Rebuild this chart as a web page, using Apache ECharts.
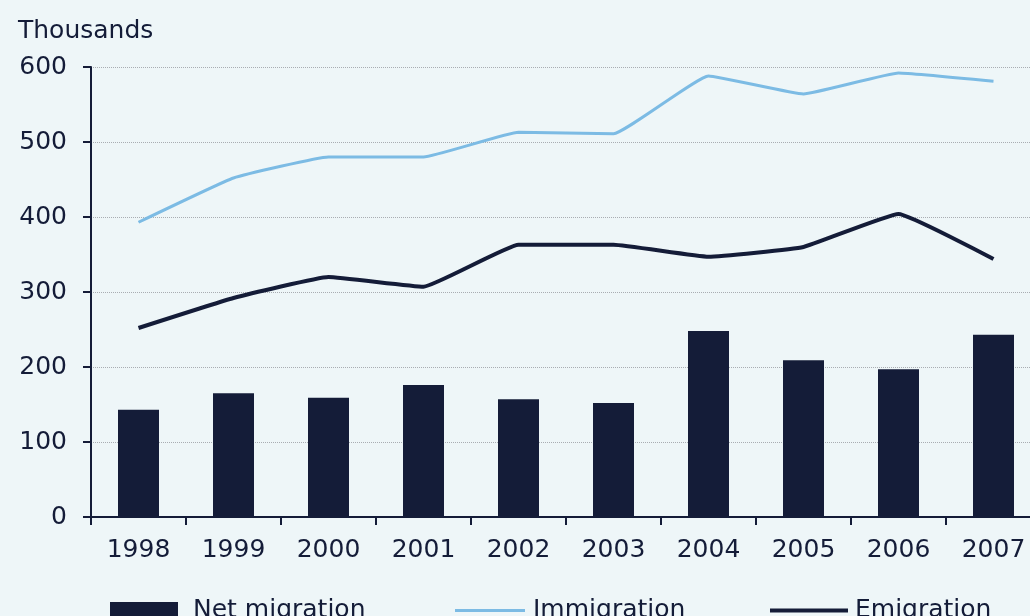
<!DOCTYPE html>
<html><head><meta charset="utf-8">
<script src="https://cdn.jsdelivr.net/npm/echarts@6/dist/echarts.min.js"></script>
<style>html,body{margin:0;padding:0;background:#eef6f8;}#c{width:1030px;height:616px;}</style>
</head><body><div id="c"></div>
<script>
var years = ['1998','1999','2000','2001','2002','2003','2004','2005','2006','2007'];
var netMigration = [143,165,159,176,157,152,248,209,197,243];
var immigration = [393,452,480,480,513,511,588,564,592,581];
var emigration = [252,292,320,307,363,363,347,360,404,344];
var yTicks = [0,100,200,300,400,500,600];

var navy = '#141c38';
var light = '#7cbbe4';
var font = 'DejaVu Sans';
var fs = 25;
var chart = echarts.init(document.getElementById('c'));
function lt(pad) { return {color: navy, fontSize: fs, fontFamily: font, padding: [0, 0, 0, pad]}; }
chart.setOption({
  backgroundColor: '#eef6f8',
  animation: false,
  title: {text: 'Thousands', left: 13, top: 14, textStyle: {color: navy, fontSize: fs, fontWeight: 'normal', fontFamily: font}},
  grid: {left: 91, top: 67, width: 950, height: 450, containLabel: false, outerBoundsMode: 'none'},
  xAxis: {
    type: 'category', data: years, boundaryGap: true,
    axisLine: {lineStyle: {color: navy, width: 2}},
    axisTick: {show: true, length: 8, lineStyle: {color: navy, width: 2}},
    axisLabel: {color: navy, fontSize: fs, fontFamily: font, margin: 21}
  },
  yAxis: {
    type: 'value', min: yTicks[0], max: yTicks[yTicks.length-1], interval: 100,
    axisLine: {show: true, lineStyle: {color: navy, width: 2}},
    axisTick: {show: true, length: 8, lineStyle: {color: navy, width: 2}},
    axisLabel: {color: navy, fontSize: fs, fontFamily: font, margin: 24},
    splitLine: {show: true, lineStyle: {color: '#a9adb2', type: 'dotted', width: 1}}
  },
  legend: [
    {data: [{name: 'Net migration', icon: 'rect'}], left: 105, top: 593, itemWidth: 68, itemHeight: 17, textStyle: lt(10)},
    {data: [{name: 'Immigration', icon: 'rect'}], left: 450, top: 593, itemWidth: 70, itemHeight: 3, textStyle: lt(3)},
    {data: [{name: 'Emigration', icon: 'rect'}], left: 765, top: 593, itemWidth: 78, itemHeight: 4, textStyle: lt(2)}
  ],
  series: [
    {name: 'Net migration', type: 'bar', data: netMigration, barWidth: 41, itemStyle: {color: navy}},
    {name: 'Immigration', type: 'line', data: immigration, smooth: 0.1, symbol: 'none', lineStyle: {color: light, width: 3}, itemStyle: {color: light}},
    {name: 'Emigration', type: 'line', data: emigration, smooth: 0.1, symbol: 'none', lineStyle: {color: navy, width: 4}, itemStyle: {color: navy}}
  ]
});
</script></body></html>
